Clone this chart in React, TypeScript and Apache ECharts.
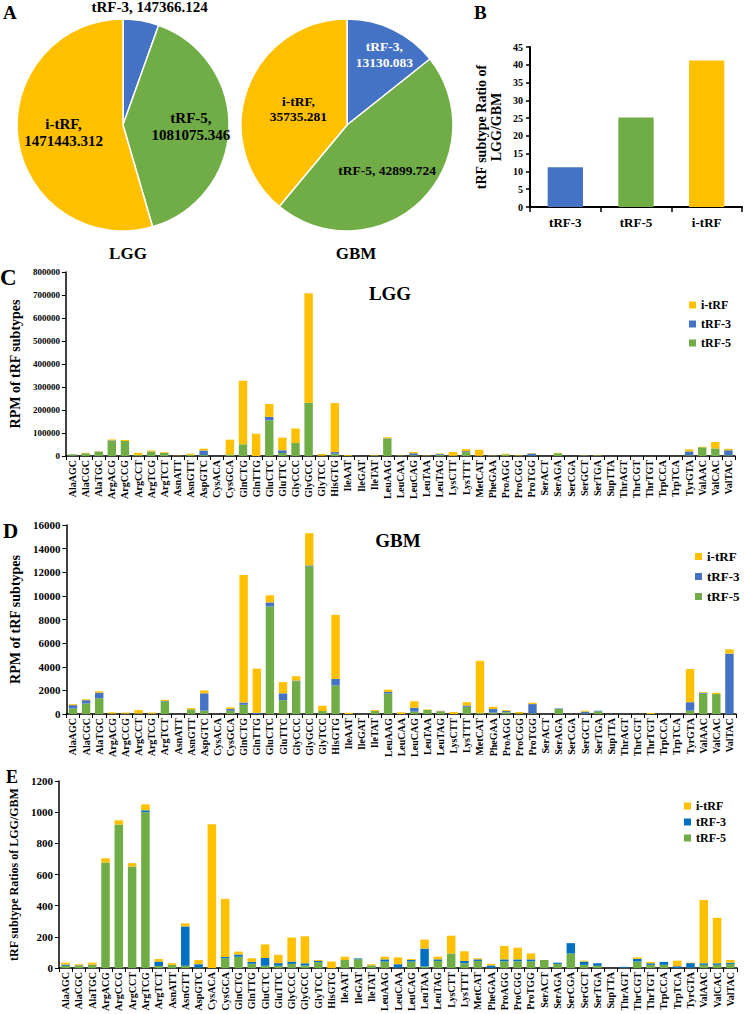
import React, { useEffect, useRef } from 'react';
import * as echarts from 'echarts';

const FONT = '"Liberation Serif", "Times New Roman", serif';

const categories = [
  'AlaAGC', 'AlaCGC', 'AlaTGC', 'ArgACG', 'ArgCCG', 'ArgCCT', 'ArgTCG', 'ArgTCT', 'AsnATT', 'AsnGTT',
  'AspGTC', 'CysACA', 'CysGCA', 'GlnCTG', 'GlnTTG', 'GluCTC', 'GluTTC', 'GlyCCC', 'GlyGCC', 'GlyTCC',
  'HisGTG', 'IleAAT', 'IleGAT', 'IleTAT', 'LeuAAG', 'LeuCAA', 'LeuCAG', 'LeuTAA', 'LeuTAG', 'LysCTT',
  'LysTTT', 'MetCAT', 'PheGAA', 'ProAGG', 'ProCGG', 'ProTGG', 'SerACT', 'SerAGA', 'SerCGA', 'SerGCT',
  'SerTGA', 'SupTTA', 'ThrAGT', 'ThrCGT', 'ThrTGT', 'TrpCCA', 'TrpTCA', 'TyrGTA', 'ValAAC', 'ValCAC',
  'ValTAC',
];

const subtypes = ['tRF-3', 'tRF-5', 'i-tRF'];
const lggTotals = [147366.124, 1081075.346, 1471443.312];
const gbmTotals = [13130.083, 42899.724, 35735.281];
const ratioLggGbm = [11.2, 25.2, 41.2];

// Panel C: LGG RPM
const lggTrf5 = [4000, 12000, 18000, 66000, 65000, 4000, 20000, 14000, 0, 5000,
  4000, 0, 7000, 51000, 0, 155000, 13000, 56000, 232000, 2000,
  10000, 1000, 0, 1000, 76000, 1000, 3000, 1000, 5000, 1000,
  17000, 1000, 1000, 6000, 1000, 1000, 0, 12000, 0, 1000,
  2000, 0, 0, 0, 0, 0, 0, 3000, 38000, 33000,
  3000];
const lggTrf3 = [3000, 0, 1500, 2000, 0, 0, 0, 0, 0, 0,
  20000, 0, 0, 0, 0, 15000, 12000, 1000, 0, 0,
  7000, 0, 0, 0, 1000, 0, 9000, 0, 4000, 0,
  4000, 0, 1000, 0, 0, 10000, 0, 0, 0, 1000,
  0, 0, 0, 0, 0, 0, 0, 17000, 0, 0,
  22000];
const lggItrf = [1500, 2000, 1500, 4000, 5000, 10000, 4000, 3000, 1000, 5000,
  8000, 0, 64000, 276000, 97000, 56000, 55000, 63000, 476000, 7000,
  213000, 3000, 0, 2000, 5000, 1000, 5000, 1000, 2000, 16000,
  9000, 26000, 1000, 4000, 2000, 2000, 0, 2000, 0, 1000,
  1000, 0, 0, 0, 0, 0, 0, 9000, 2000, 28000,
  6000];

// Panel D: GBM RPM
const gbmTrf5 = [470, 890, 1330, 40, 40, 50, 30, 1050, 0, 400,
  280, 0, 280, 780, 0, 9100, 1170, 2780, 12500, 250,
  2420, 0, 0, 250, 1720, 0, 200, 350, 200, 0,
  610, 100, 110, 150, 50, 60, 0, 420, 0, 50,
  220, 0, 0, 0, 0, 0, 0, 280, 1720, 1690,
  0];
const gbmTrf3 = [280, 280, 470, 0, 0, 0, 0, 50, 0, 0,
  1470, 0, 140, 195, 100, 350, 580, 50, 80, 0,
  550, 0, 0, 0, 140, 0, 330, 0, 40, 0,
  110, 0, 310, 100, 0, 780, 0, 50, 0, 150,
  60, 0, 0, 0, 0, 0, 0, 720, 80, 0,
  5110];
const gbmItrf = [80, 80, 120, 100, 80, 280, 90, 100, 0, 100,
  250, 0, 140, 10800, 3740, 600, 950, 370, 2730, 450,
  5420, 100, 0, 80, 200, 140, 550, 40, 40, 170,
  280, 4400, 190, 80, 120, 110, 0, 0, 0, 80,
  0, 0, 0, 0, 80, 0, 0, 2810, 60, 110,
  360];

// Panel E: LGG/GBM ratios
const ratioTrf5 = [15, 15, 20, 677, 921, 652, 1000, 14, 20, 15,
  3, 0, 63, 73, 28, 15, 15, 27, 17, 38,
  0, 52, 57, 18, 42, 3, 42, 10, 46, 94,
  31, 46, 2, 44, 44, 44, 52, 27, 94, 21,
  15, 0, 2, 42, 21, 21, 0, 3, 21, 21,
  27];
const ratioTrf3 = [8, 3, 2, 0, 0, 0, 12, 28, 0, 252,
  22, 0, 8, 14, 12, 50, 17, 15, 14, 8,
  0, 0, 5, 0, 14, 22, 10, 115, 10, 0,
  15, 10, 15, 12, 12, 12, 0, 8, 66, 21,
  16, 0, 6, 17, 10, 19, 12, 29, 10, 10,
  8];
const ratioItrf = [12, 7, 13, 27, 27, 21, 38, 16, 11, 20,
  27, 923, 373, 19, 23, 87, 53, 154, 173, 6,
  42, 21, 0, 7, 17, 44, 6, 58, 17, 114,
  62, 7, 10, 86, 75, 38, 0, 0, 0, 6,
  0, 0, 0, 10, 9, 0, 36, 3, 406, 292,
  17];

const COLORS: Record<string, string> = {
  'tRF-3': '#4472C4',
  'tRF-5': '#70AD47',
  'i-tRF': '#FFC000',
};
const BLUE_E = '#0070C0';

const bold = (size: number, color = '#000') => ({
  fontFamily: FONT, fontWeight: 'bold' as const, fontSize: size, color,
});

const lggLabelShift = [[17, -63], [12, 0], [-4, 0]];
const lggLabelSep = [', ', ',\n', ',\n'];
const gbmLabelShift = [[13, -20], [1, 5], [4, 3]];
const gbmLabelSep = [',\n', ', ', ',\n'];
const gbmLabelColor = ['#fff', '#000', '#000'];

function pieSeries(values: number[], center: number[], size: number, shift: number[][], sep: string[], colors: string[]) {
  return {
    type: 'pie',
    center,
    radius: 106,
    startAngle: 90,
    clockwise: true,
    itemStyle: { borderColor: '#fff', borderWidth: 1.5 },
    labelLine: { show: false },
    label: {
      show: true,
      position: 'inside',
      ...bold(size),
      lineHeight: size + 2,
      formatter: (p: any) => `${p.name}${sep[p.dataIndex]}${Number(p.value).toFixed(3)}`,
    },
    labelLayout: (p: any) => ({ dx: shift[p.dataIndex][0], dy: shift[p.dataIndex][1] }),
    data: subtypes.map((n, i) => ({
      name: n,
      value: values[i],
      itemStyle: { color: COLORS[n] },
      label: { color: colors[i] },
    })),
  };
}

function stacked(idx: number, g: number[], b: number[], y: number[], blue: string) {
  const common = { type: 'bar', xAxisIndex: idx, yAxisIndex: idx, stack: 's' + idx, barWidth: '64%' };
  return [
    { ...common, name: 'tRF-5', data: g, itemStyle: { color: COLORS['tRF-5'] } },
    { ...common, name: 'tRF-3', data: b, itemStyle: { color: blue } },
    { ...common, name: 'i-tRF', data: y, itemStyle: { color: COLORS['i-tRF'] } },
  ];
}

const axisLineStyle = { show: true, lineStyle: { color: '#000', width: 1.5 } };

function catAxis(idx: number) {
  return {
    type: 'category', gridIndex: idx, data: categories,
    axisLine: axisLineStyle,
    axisTick: { show: true, length: 4, lineStyle: { color: '#000' } },
    axisLabel: { interval: 0, rotate: 90, margin: 4, ...bold(10) },
  };
}

function valAxis(idx: number, max: number, interval: number, name: string, nameGap: number, nameSize: number, labelSize: number) {
  return {
    type: 'value', gridIndex: idx, min: 0, max, interval,
    axisLine: axisLineStyle,
    axisTick: { show: true, length: 4, lineStyle: { color: '#000' } },
    splitLine: { show: false },
    axisLabel: { ...bold(labelSize), margin: 6, formatter: (v: number) => String(v) },
    name, nameLocation: 'middle', nameGap, nameTextStyle: bold(nameSize),
  };
}

function legend(left: number, top: number, gap: number, blue: string, size: number) {
  return {
    orient: 'vertical', left, top, itemWidth: 7, itemHeight: 7, itemGap: gap, icon: 'rect',
    selectedMode: false,
    textStyle: bold(size),
    data: [
      { name: 'i-tRF', itemStyle: { color: COLORS['i-tRF'] } },
      { name: 'tRF-3', itemStyle: { color: blue } },
      { name: 'tRF-5', itemStyle: { color: COLORS['tRF-5'] } },
    ],
  };
}

function txt(text: string, left: number, top: number, size: number, align = 'left') {
  return { text, left, top, padding: 0, textAlign: align, textStyle: bold(size) };
}

export default function App() {
  const ref = useRef<HTMLDivElement>(null);
  useEffect(() => {
    if (!ref.current) return;
    const chart = echarts.init(ref.current, undefined, { renderer: 'svg' });
    const option: any = {
      animation: false,
      backgroundColor: '#fff',
      title: [
        txt('A', 3, 3, 19),
        txt('B', 474, 3, 19),
        txt('C', 0, 266, 23),
        txt('D', 3, 520, 21),
        txt('E', 6, 768, 18),
        txt('LGG', 128, 245, 17, 'center'),
        txt('GBM', 356, 245, 17, 'center'),
        txt('LGG', 390, 284, 19, 'center'),
        txt('GBM', 398, 531, 19, 'center'),
      ],
      legend: [
        legend(684, 294, 7, COLORS['tRF-3'], 12),
        legend(690, 545, 7, COLORS['tRF-3'], 13),
        legend(679, 795, 4, BLUE_E, 12),
      ],
      grid: [
        { left: 530, top: 47, width: 212, height: 160 },
        { left: 59, top: 272, width: 676, height: 184 },
        { left: 59, top: 525, width: 677, height: 189 },
        { left: 59, top: 781, width: 678, height: 191 },
      ],
      xAxis: [
        {
          type: 'category', gridIndex: 0, data: subtypes,
          axisLine: { show: true, lineStyle: { color: '#000', width: 2 } },
          axisTick: { show: true, length: 5, lineStyle: { color: '#000', width: 1.5 } },
          axisLabel: { ...bold(13), margin: 9 },
        },
        catAxis(1), catAxis(2), catAxis(3),
      ],
      yAxis: [
        {
          type: 'value', gridIndex: 0, min: 0, max: 45, interval: 5,
          axisLine: { show: true, lineStyle: { color: '#000', width: 2 } },
          axisTick: { show: true, length: 4, lineStyle: { color: '#000', width: 1.5 } },
          splitLine: { show: false },
          axisLabel: { ...bold(10), margin: 7 },
          name: 'tRF subtype Ratio of\nLGG/GBM', nameLocation: 'middle', nameGap: 26,
          nameTextStyle: { ...bold(14), lineHeight: 15 },
        },
        valAxis(1, 800000, 100000, 'RPM of tRF subtypes', 36, 14, 9),
        valAxis(2, 16000, 2000, 'RPM of tRF subtypes', 34, 14, 11),
        valAxis(3, 1200, 200, 'tRF subtype Ratios of LGG/GBM', 28, 12, 11),
      ],
      series: [
        pieSeries(lggTotals, [123, 125], 15, lggLabelShift, lggLabelSep, ['#000', '#000', '#000']),
        pieSeries(gbmTotals, [347, 125], 13.5, gbmLabelShift, gbmLabelSep, gbmLabelColor),
        {
          type: 'bar', xAxisIndex: 0, yAxisIndex: 0, barWidth: '50%', name: 'ratio',
          data: ratioLggGbm.map((v, i) => ({ value: v, itemStyle: { color: COLORS[subtypes[i]] } })),
        },
        ...stacked(1, lggTrf5, lggTrf3, lggItrf, COLORS['tRF-3']),
        ...stacked(2, gbmTrf5, gbmTrf3, gbmItrf, COLORS['tRF-3']),
        ...stacked(3, ratioTrf5, ratioTrf3, ratioItrf, BLUE_E),
      ],
    };
    chart.setOption(option);
    return () => chart.dispose();
  }, []);
  return <div ref={ref} style={{ position: 'absolute', left: 0, top: 0, width: 744, height: 1014 }} />;
}
